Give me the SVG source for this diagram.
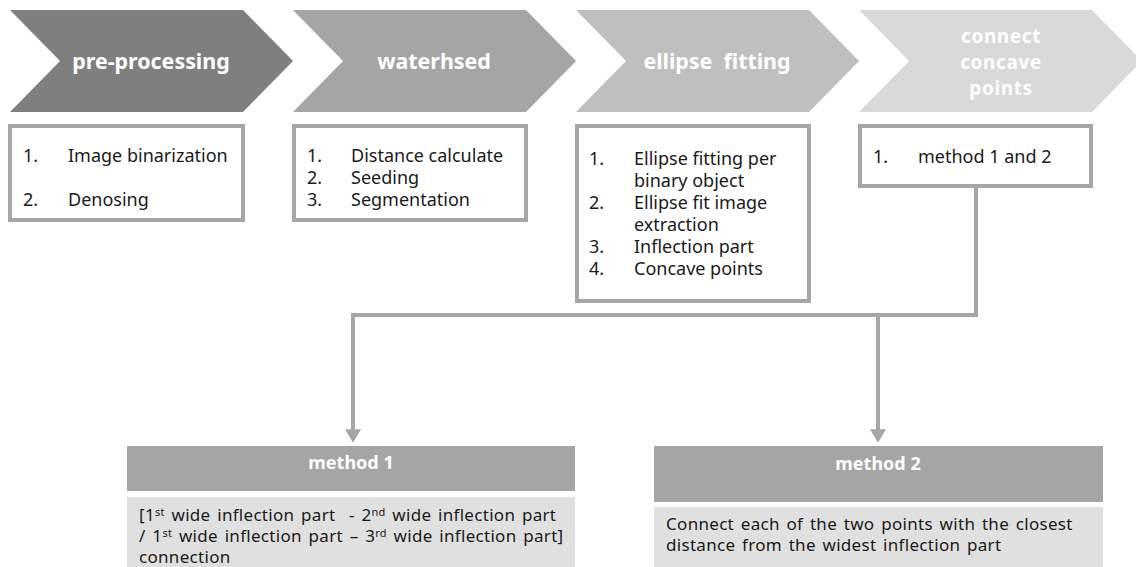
<svg xmlns="http://www.w3.org/2000/svg" width="1136" height="567" viewBox="0 0 1136 567">
<defs>
<style>
.chev-t{font-family:"Noto Sans","Open Sans",sans-serif;font-weight:bold;font-size:21.4px;fill:#ffffff;text-anchor:middle}
.chev-s{font-family:"Noto Sans","Open Sans",sans-serif;font-weight:bold;font-size:19px;letter-spacing:0.6px;fill:#ffffff;text-anchor:middle}
.box{fill:#ffffff;stroke:#a6a6a6;stroke-width:4}
.t{font-family:"Noto Sans","Open Sans",sans-serif;font-size:18px;fill:#1a1a1a}
.tb{font-family:"Noto Sans","Open Sans",sans-serif;font-size:17px;letter-spacing:0.3px;word-spacing:2px;fill:#1a1a1a}
.hdr{fill:#a5a5a5}
.body{fill:#e0e0e0}
.hdr-t{font-family:"Noto Sans","Open Sans",sans-serif;font-weight:bold;font-size:18px;fill:#ffffff;text-anchor:middle}
.conn{fill:none;stroke:#a6a6a6;stroke-width:4}
.sup{font-size:11px}
</style>
<marker id="arr" markerWidth="4.5" markerHeight="4" refX="0.2" refY="2" orient="auto" markerUnits="strokeWidth" viewBox="0 0 4.5 4">
<path d="M0,0 L3.4,2 L0,4 Z" fill="#a6a6a6"/>
</marker>
</defs>
<rect width="1136" height="567" fill="#ffffff"/>

<g id="step-preprocessing">
<polygon points="10,10 243,10 293,61 243,112 10,112 60,61" fill="#7f7f7f"/>
<text class="chev-t" x="151" y="69">pre-processing</text>
</g>
<g id="step-watershed">
<polygon points="293,10 526,10 576,61 526,112 293,112 343,61" fill="#a5a5a5"/>
<text class="chev-t" x="434" y="69">waterhsed</text>
</g>
<g id="step-ellipse">
<polygon points="576,10 809,10 859,61 809,112 576,112 626,61" fill="#bfbfbf"/>
<text class="chev-t" x="717" y="69" xml:space="preserve">ellipse  fitting</text>
</g>
<g id="step-connect">
<polygon points="859,10 1092,10 1142,61 1092,112 859,112 909,61" fill="#d9d9d9"/>
<text class="chev-s"><tspan x="1001" y="43">connect</tspan><tspan x="1001" y="69">concave</tspan><tspan x="1001" y="95">points</tspan></text>
</g>

<g id="box-preprocessing">
<rect class="box" x="10" y="126" width="233" height="94"/>
<text class="t"><tspan x="23" y="162">1.</tspan><tspan x="68" y="162">Image binarization</tspan><tspan x="23" y="206">2.</tspan><tspan x="68" y="206">Denosing</tspan></text>
</g>
<g id="box-watershed">
<rect class="box" x="294" y="126" width="232" height="94"/>
<text class="t"><tspan x="307" y="162">1.</tspan><tspan x="351" y="162">Distance calculate</tspan><tspan x="307" y="184">2.</tspan><tspan x="351" y="184">Seeding</tspan><tspan x="307" y="206">3.</tspan><tspan x="351" y="206">Segmentation</tspan></text>
</g>
<g id="box-ellipse">
<rect class="box" x="577" y="126" width="232" height="175"/>
<text class="t"><tspan x="589" y="165">1.</tspan><tspan x="634" y="165">Ellipse fitting per</tspan><tspan x="634" y="187">binary object</tspan><tspan x="589" y="209">2.</tspan><tspan x="634" y="209">Ellipse fit image</tspan><tspan x="634" y="231">extraction</tspan><tspan x="589" y="253">3.</tspan><tspan x="634" y="253">Inflection part</tspan><tspan x="589" y="275">4.</tspan><tspan x="634" y="275">Concave points</tspan></text>
</g>
<g id="box-connect">
<rect class="box" x="860" y="126" width="231" height="60"/>
<text class="t"><tspan x="873" y="163">1.</tspan><tspan x="918" y="163">method 1 and 2</tspan></text>
</g>

<g id="connectors">
<polyline class="conn" points="976,188 976,315 353,315 353,430" marker-end="url(#arr)"/>
<line class="conn" x1="878" y1="315" x2="878" y2="430" marker-end="url(#arr)"/>
</g>

<g id="method1">
<rect class="hdr" x="127" y="446" width="448" height="45"/>
<text class="hdr-t" x="351" y="469">method 1</text>
<rect class="body" x="127" y="497" width="448" height="75"/>
<text class="tb" xml:space="preserve"><tspan x="139" y="521">[1</tspan><tspan class="sup" y="516">st</tspan><tspan y="521"> wide inflection part  - 2</tspan><tspan class="sup" y="516">nd</tspan><tspan y="521"> wide inflection part</tspan><tspan x="139" y="542">/ 1</tspan><tspan class="sup" y="537">st</tspan><tspan y="542"> wide inflection part – 3</tspan><tspan class="sup" y="537">rd</tspan><tspan y="542"> wide inflection part]</tspan><tspan x="139" y="563">connection</tspan></text>
</g>
<g id="method2">
<rect class="hdr" x="654" y="446" width="449" height="56"/>
<text class="hdr-t" x="878" y="470">method 2</text>
<rect class="body" x="654" y="507" width="449" height="65"/>
<text class="tb"><tspan x="666" y="530">Connect each of the two points with the closest</tspan><tspan x="666" y="551">distance from the widest inflection part</tspan></text>
</g>
</svg>
